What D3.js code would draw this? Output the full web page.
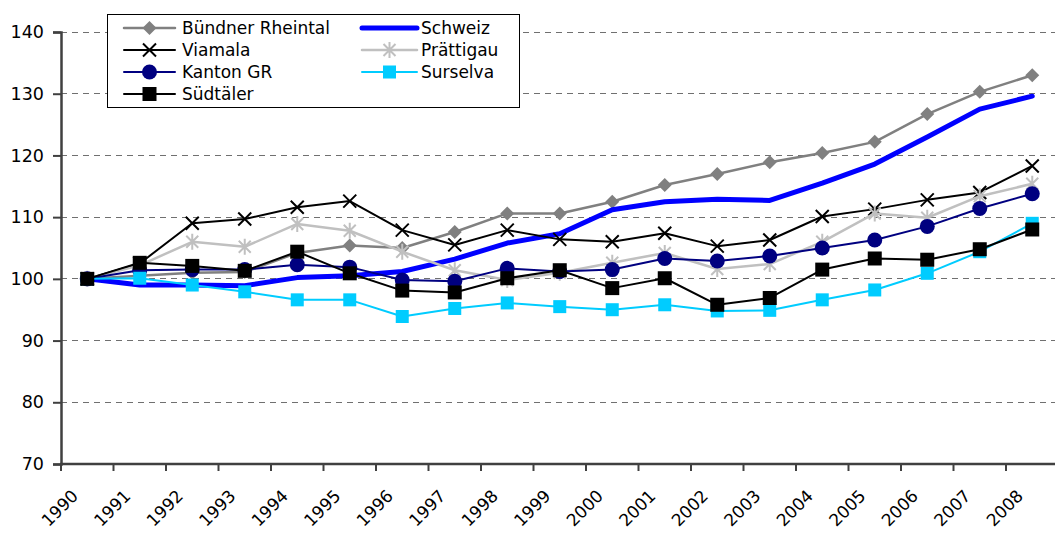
<!DOCTYPE html>
<html>
<head>
<meta charset="utf-8">
<script src="https://cdn.jsdelivr.net/npm/d3@7"></script>
<style>
  html, body { margin: 0; padding: 0; background: #fff; }
  svg { display: block; }
  text { font-family: "DejaVu Sans", Verdana, sans-serif; fill: #000; }
</style>
</head>
<body>
<svg id="chart" width="1055" height="534"></svg>
<script>
const years = ["1990","1991","1992","1993","1994","1995","1996","1997","1998","1999","2000","2001","2002","2003","2004","2005","2006","2007","2008"];
const yTicks = [70, 80, 90, 100, 110, 120, 130, 140];

const buendnerRheintal = [100, 100.5, 101.0, 101.1, 104.2, 105.4, 105.0, 107.6, 110.6, 110.6, 112.5, 115.2, 117.0, 118.9, 120.4, 122.2, 126.7, 130.3, 133.0];
const schweiz          = [100, 99.0, 99.0, 98.9, 100.2, 100.5, 101.2, 103.2, 105.8, 107.3, 111.2, 112.5, 112.9, 112.7, 115.5, 118.6, 123.0, 127.5, 129.6];
const viamala          = [100, 102.5, 109.0, 109.7, 111.6, 112.6, 107.9, 105.5, 107.9, 106.4, 106.0, 107.4, 105.3, 106.3, 110.1, 111.3, 112.8, 114.0, 118.3];
const praettigau       = [100, 102.2, 106.0, 105.2, 108.9, 107.8, 104.4, 101.4, 99.8, 101.0, 102.6, 104.2, 101.6, 102.4, 106.0, 110.6, 109.9, 113.4, 115.4];
const kantonGR         = [100, 101.4, 101.5, 101.5, 102.3, 101.9, 99.8, 99.6, 101.7, 101.2, 101.5, 103.3, 102.9, 103.7, 105.0, 106.3, 108.5, 111.4, 113.8];
const surselva         = [100, 100.1, 99.0, 97.9, 96.6, 96.6, 93.9, 95.2, 96.1, 95.5, 95.0, 95.8, 94.8, 94.9, 96.6, 98.2, 100.9, 104.4, 109.0];
const suedtaeler       = [100, 102.6, 102.1, 101.3, 104.4, 100.9, 98.1, 97.8, 100.1, 101.4, 98.5, 100.1, 95.8, 96.9, 101.5, 103.3, 103.1, 104.8, 108.0];

const seriesNames = ["Bündner Rheintal", "Schweiz", "Viamala", "Prättigau", "Kanton GR", "Surselva", "Südtäler"];

const series = [
  {name: seriesNames[0], values: buendnerRheintal, color: "#808080", width: 2.5, marker: "diamond"},
  {name: seriesNames[1], values: schweiz, color: "#0000FF", width: 5, marker: "none"},
  {name: seriesNames[2], values: viamala, color: "#000000", width: 2, marker: "x"},
  {name: seriesNames[3], values: praettigau, color: "#C0C0C0", width: 2.5, marker: "star"},
  {name: seriesNames[4], values: kantonGR, color: "#000080", width: 2, marker: "circle"},
  {name: seriesNames[5], values: surselva, color: "#00CCFF", width: 2, marker: "square"},
  {name: seriesNames[6], values: suedtaeler, color: "#000000", width: 2, marker: "squareBig"}
];

const svg = d3.select("#chart");
const plotLeft = 61, plotRight = 1058.5, plotTop = 32, plotBottom = 464;

const x = d3.scaleBand().domain(years).range([plotLeft, plotRight]).paddingInner(0).paddingOuter(0);
const y = d3.scaleLinear().domain([70, 140]).range([plotBottom, plotTop]);
const cx = d => x(d) + x.bandwidth() / 2;

// gridlines
svg.append("g").selectAll("line").data(yTicks.filter(t => t > 70)).join("line")
  .attr("x1", plotLeft).attr("x2", 1055)
  .attr("y1", d => y(d)).attr("y2", d => y(d))
  .attr("stroke", "#707070").attr("stroke-width", 1)
  .attr("stroke-dasharray", "6,5")
  .attr("shape-rendering", "crispEdges");

// y axis
const yAxis = svg.append("g").attr("transform", `translate(${plotLeft},0)`)
  .call(d3.axisLeft(y).tickValues(yTicks).tickSize(8).tickPadding(9));
yAxis.select(".domain").attr("stroke", "#404040").attr("stroke-width", 2.5);
yAxis.selectAll(".tick line").attr("stroke", "#404040").attr("stroke-width", 2);
yAxis.selectAll(".tick text").style("font-size", "17.5px").style("font-family", "'DejaVu Sans', Verdana, sans-serif").attr("fill", "#000");

// x axis line + ticks
const xAxis = svg.append("g").attr("transform", `translate(0,${plotBottom})`);
xAxis.append("line").attr("x1", plotLeft - 1).attr("x2", 1055).attr("y1", 0).attr("y2", 0)
  .attr("stroke", "#404040").attr("stroke-width", 2.5);
xAxis.selectAll("line.tk").data(years).join("line").attr("class", "tk")
  .attr("x1", d => x(d)).attr("x2", d => x(d)).attr("y1", 0).attr("y2", 7)
  .attr("stroke", "#404040").attr("stroke-width", 2);
svg.append("g").selectAll("text").data(years).join("text")
  .attr("transform", d => `translate(${cx(d) - 8},497) rotate(-45)`)
  .attr("text-anchor", "end")
  .style("font-size", "17px")
  .text(d => d);

// marker drawing
function drawMarker(g, type, color) {
  switch (type) {
    case "diamond":
      g.append("path").attr("d", "M0,-7L7,0L0,7L-7,0Z").attr("fill", color);
      break;
    case "x":
      g.append("path").attr("d", "M-6.5,-6.5L6.5,6.5M-6.5,6.5L6.5,-6.5").attr("stroke", color).attr("stroke-width", 2).attr("fill", "none");
      break;
    case "star":
      g.append("path").attr("d", "M-6,-6L6,6M-6,6L6,-6M0,-8L0,8").attr("stroke", color).attr("stroke-width", 2).attr("fill", "none");
      break;
    case "circle":
      g.append("circle").attr("r", 7.5).attr("fill", color);
      break;
    case "square":
      g.append("rect").attr("x", -6.5).attr("y", -6.5).attr("width", 13).attr("height", 13).attr("fill", color);
      break;
    case "squareBig":
      g.append("rect").attr("x", -7).attr("y", -7).attr("width", 14).attr("height", 14).attr("fill", color);
      break;
  }
}

const line = d3.line().x((d, i) => cx(years[i])).y(d => y(d));

series.forEach(s => {
  const g = svg.append("g");
  g.append("path").attr("d", line(s.values)).attr("fill", "none")
    .attr("stroke", s.color).attr("stroke-width", s.width)
    .attr("stroke-linejoin", "round").attr("stroke-linecap", "round");
  if (s.marker !== "none") {
    s.values.forEach((v, i) => {
      const mg = g.append("g").attr("transform", `translate(${cx(years[i])},${y(v)})`);
      drawMarker(mg, s.marker, s.color);
    });
  }
});

// legend
const legend = svg.append("g");
legend.append("rect").attr("x", 107.5).attr("y", 14.5).attr("width", 412).attr("height", 93)
  .attr("fill", "#fff").attr("stroke", "#000").attr("stroke-width", 1);
const legendPos = [
  {col: 0, row: 0}, {col: 1, row: 0}, {col: 0, row: 1}, {col: 1, row: 1},
  {col: 0, row: 2}, {col: 1, row: 2}, {col: 0, row: 3}
];
const colX = [{x1: 124, x2: 175, tx: 182}, {x1: 362, x2: 417, tx: 421}];
const rowY = [28, 50, 72, 94];
series.forEach((s, i) => {
  const p = legendPos[i];
  const c = colX[p.col];
  const yy = rowY[p.row];
  const g = legend.append("g");
  g.append("line").attr("x1", c.x1).attr("x2", c.x2).attr("y1", yy).attr("y2", yy)
    .attr("stroke", s.color).attr("stroke-width", s.width).attr("stroke-linecap", "round");
  if (s.marker !== "none") {
    const mg = g.append("g").attr("transform", `translate(${(c.x1 + c.x2) / 2},${yy})`);
    drawMarker(mg, s.marker, s.color);
  }
  g.append("text").attr("x", c.tx).attr("y", yy).attr("dy", "0.36em")
    .style("font-size", "17px").text(s.name);
});
</script>
</body>
</html>
